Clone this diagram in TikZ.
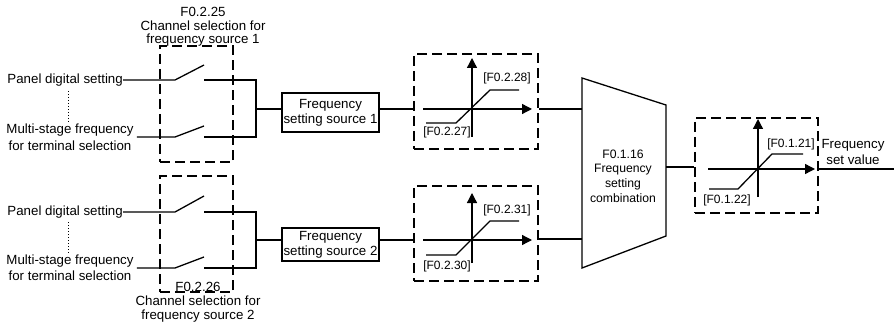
\documentclass[tikz,border=0pt]{standalone}
\usepackage{fontspec}
\setmainfont{Liberation Sans}
\usetikzlibrary{arrows.meta}
\begin{document}
\begin{tikzpicture}[x=1pt,y=-1pt,
  every node/.style={inner sep=0pt, font=\fontsize{13.3}{15}\selectfont},
  wire/.style={line width=1.3pt},
  grp/.style={draw, line width=2.6pt, dash pattern=on 10pt off 5pt},
  fbox/.style={draw, line width=1.3pt, minimum width=97pt, minimum height=39pt, align=center},
  ax/.style={line width=1.3pt, -{Triangle[length=10pt,width=10pt]}},
  brk/.style={font=\fontsize{12}{13}\selectfont},
  dots/.style={line width=1pt, dotted}
]
\useasboundingbox (0,0) rectangle (894,326);

% ---------- top input group ----------
\node[anchor=east] (pd1) at (123,80) {Panel digital setting};
\node[align=center, font=\fontsize{13.3}{17.5}\selectfont] (ms1) at (70,137) {Multi-stage frequency\\for terminal selection};
\draw[dots] (68,91) -- (68,123);
\node[grp, minimum width=73pt, minimum height=116pt] (sw1) at (196.5,104) {};
\node[align=center, font=\fontsize{13.3}{13.5}\selectfont] (sw1t) at (203,27) {F0.2.25\\Channel selection for\\frequency source 1};

\coordinate (a1) at (175,80);  \coordinate (b1) at (204,65);
\coordinate (c1) at (204,80);  \coordinate (j1) at (256,80);
\coordinate (a2) at (175,137); \coordinate (b2) at (204,126);
\coordinate (c2) at (204,137); \coordinate (j2) at (256,137);
\coordinate (jm1) at (256,109);
\draw[wire] (pd1.east) -- (a1) -- (b1);
\draw[wire] ([xshift=3pt]ms1.east) -- (a2) -- (b2);
\draw[wire] (c1) -- (j1) -- (j2) -- (c2);

\node[fbox] (fs1) at (330.5,112.5) {Frequency\\setting source 1};
\draw[wire] (jm1) -- (jm1 -| fs1.west);

\node[grp, minimum width=124pt, minimum height=95pt] (sat1) at (476,101.5) {};
\draw[wire] (jm1 -| fs1.east) -- (jm1 -| sat1.west);
\draw[ax] (423,109) -- (532,109);
\draw[ax] (472,137) -- (472,58);
\draw[wire] (426,123) -- (456,123) -- (490,90) -- (519,90);
\node[brk] (l28) at (507,78) {[F0.2.28]};
\node[brk] (l27) at (447,132) {[F0.2.27]};

% ---------- bottom input group ----------
\node[anchor=east] (pd2) at (123,212) {Panel digital setting};
\node[align=center, font=\fontsize{13.3}{16}\selectfont] (ms2) at (70,268) {Multi-stage frequency\\for terminal selection};
\draw[dots] (68,222) -- (68,253);
\node[grp, minimum width=73pt, minimum height=116pt] (sw2) at (196.5,234) {};
\node (sw2a) at (198,287) {F0.2.26};
\node[align=center, font=\fontsize{13.3}{14}\selectfont] (sw2t) at (198,309) {Channel selection for\\frequency source 2};

\coordinate (a3) at (175,212); \coordinate (b3) at (204,196);
\coordinate (c3) at (204,212); \coordinate (j3) at (256,212);
\coordinate (a4) at (175,268); \coordinate (b4) at (204,257);
\coordinate (c4) at (204,268); \coordinate (j4) at (256,268);
\coordinate (jm2) at (256,240);
\draw[wire] (pd2.east) -- (a3) -- (b3);
\draw[wire] ([xshift=3pt]ms2.east) -- (a4) -- (b4);
\draw[wire] (c3) -- (j3) -- (j4) -- (c4);

\node[fbox, minimum height=33pt] (fs2) at (330.5,244.5) {Frequency\\setting source 2};
\draw[wire] (jm2) -- (jm2 -| fs2.west);

\node[grp, minimum width=124pt, minimum height=95pt] (sat2) at (476,233.5) {};
\draw[wire] (jm2 -| fs2.east) -- (jm2 -| sat2.west);
\draw[ax] (423,240) -- (532,240);
\draw[ax] (472,263) -- (472,193);
\draw[wire] (426,255) -- (456,255) -- (490,221) -- (519,221);
\node[brk] (l31) at (507,210) {[F0.2.31]};
\node[brk] (l30) at (447,266) {[F0.2.30]};

% ---------- combination ----------
\coordinate (t1) at (582,78);  \coordinate (t2) at (666,105);
\coordinate (t3) at (666,236); \coordinate (t4) at (582,268);
\draw[wire] (t1) -- (t2) -- (t3) -- (t4) -- cycle;
\node[align=center, font=\fontsize{12.2}{14.7}\selectfont] (comb) at (623,176) {F0.1.16\\Frequency\\setting\\combination};
\coordinate (in1) at (582,109);
\coordinate (in2) at (582,239);
\draw[wire] (in1 -| sat1.east) -- (in1);
\draw[wire] (in2 -| sat2.east) -- (in2);

% ---------- output ----------
\node[grp, minimum width=123pt, minimum height=95pt] (sat3) at (756.5,165.5) {};
\coordinate (out) at (666,167);
\draw[wire] (out) -- (out -| sat3.west);
\draw[ax] (708,169) -- (815,169);
\draw[ax] (758,197) -- (758,119);
\draw[wire] (709,189) -- (738,189) -- (772,154) -- (803,154);
\node[brk] (l21) at (791,144) {[F0.1.21]};
\node[brk] (l22) at (727,200) {[F0.1.22]};
\coordinate (fin) at (894,169);
\draw[wire] (fin -| sat3.east) -- (fin);
\node[align=center, font=\fontsize{13.3}{16}\selectfont] (fsv) at (853,152) {Frequency\\set value};
\end{tikzpicture}
\end{document}
